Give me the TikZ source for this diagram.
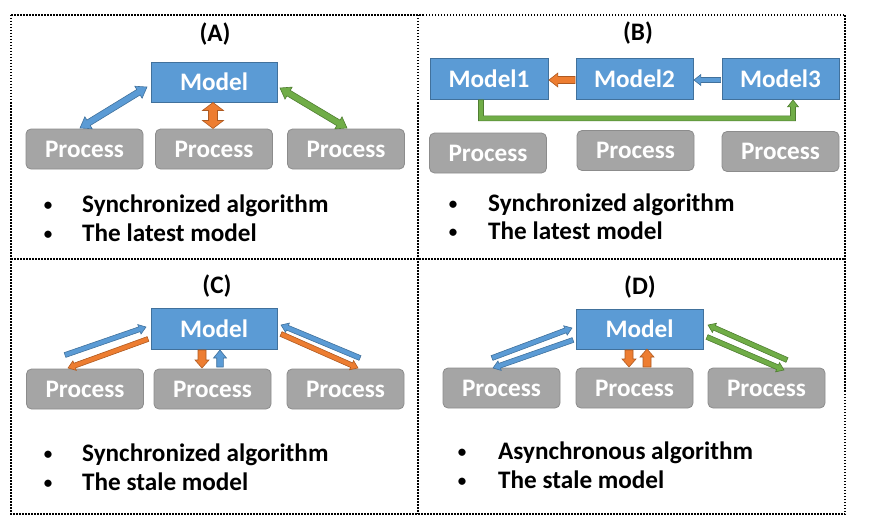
\documentclass[tikz,border=0pt]{standalone}
\usepackage{fontspec}
\setmainfont{Carlito}
\usetikzlibrary{calc}
\definecolor{mblue}{HTML}{5B9BD5}
\definecolor{mbluedk}{HTML}{41719C}
\definecolor{pgray}{HTML}{A5A5A5}
\definecolor{pgraydk}{HTML}{8C8C8C}
\definecolor{aorange}{HTML}{ED7D31}
\definecolor{aorangedk}{HTML}{AE5A21}
\definecolor{agreen}{HTML}{70AD47}
\definecolor{agreendk}{HTML}{507E32}
\newdimen\myax \newdimen\myay
\newcommand{\myprep}[2]{%
  \pgfextractx{\myax}{\pgfpointdiff{\pgfpointanchor{#1}{center}}{\pgfpointanchor{#2}{center}}}%
  \pgfextracty{\myay}{\pgfpointdiff{\pgfpointanchor{#1}{center}}{\pgfpointanchor{#2}{center}}}%
  \pgfmathsetmacro\myang{atan2(\myay,\myax)}%
  \pgfmathsetmacro\mylen{veclen(\myax,\myay)}}
% single block arrow: style, from, to, shaft half width, head half width, head length
\newcommand{\sarrow}[6]{%
  \myprep{#2}{#3}%
  \begin{scope}[shift={(#2)},rotate=\myang]
  \draw[#1] (0pt,-#4pt) -- ({\mylen pt-#6pt},-#4pt) -- ({\mylen pt-#6pt},-#5pt) -- (\mylen pt,0pt)
     -- ({\mylen pt-#6pt},#5pt) -- ({\mylen pt-#6pt},#4pt) -- (0pt,#4pt) -- cycle;
  \end{scope}}
% double block arrow
\newcommand{\darrow}[6]{%
  \myprep{#2}{#3}%
  \begin{scope}[shift={(#2)},rotate=\myang]
  \draw[#1] (0pt,0pt) -- (#6pt,#5pt) -- (#6pt,#4pt) -- ({\mylen pt-#6pt},#4pt) -- ({\mylen pt-#6pt},#5pt)
     -- (\mylen pt,0pt) -- ({\mylen pt-#6pt},-#5pt) -- ({\mylen pt-#6pt},-#4pt) -- (#6pt,-#4pt)
     -- (#6pt,-#5pt) -- cycle;
  \end{scope}}
\tikzset{
  txt/.style={font=\fontsize{25.2}{30}\selectfont\bfseries},
  modelbox/.style={txt, draw=mbluedk, fill=mblue, line width=0.8pt, text=white, inner sep=0pt,
    minimum width=126, minimum height=40},
  procbox/.style={txt, draw=pgraydk, fill=pgray, line width=0.8pt, text=white, inner sep=0pt,
    rounded corners=5pt, minimum width=117, minimum height=40},
  title/.style={txt, anchor=base, inner sep=0pt},
  bul/.style={font=\fontsize{17}{20}\selectfont\bfseries, anchor=base, inner sep=0pt},
  btext/.style={txt, anchor=base west, inner sep=0pt},
  frame/.style={line width=1.7pt, dash pattern=on 1.5pt off 1.5pt},
  ablue/.style={draw=mbluedk, fill=mblue, line width=0.6pt, line join=miter},
  aorng/.style={draw=aorangedk, fill=aorange, line width=0.6pt, line join=miter},
  agrn/.style={draw=agreendk, fill=agreen, line width=0.6pt, line join=miter},
}
\begin{document}
\begin{tikzpicture}[x=1pt,y=-1pt]
\useasboundingbox (0,0) rectangle (869,532);
% frame
\draw[frame] (11,15) rectangle (845,514);
\draw[frame] (418,15) -- (418,514);
\draw[frame] (11,259) -- (845,259);

% ---------- Panel A ----------
\node[title] (ta) at (215,42) {(A)};
\node[modelbox] (am) at (214,82) {Model};
\node[procbox] (pa1) at (84.5,149) {Process};
\node[procbox] (pa2) at (214,149) {Process};
\node[procbox] (pa3) at (346,149) {Process};
\coordinate (a1s) at (80,128); \coordinate (a1e) at (147,87);
\coordinate (a2s) at (213,102.5); \coordinate (a2e) at (213,128.5);
\coordinate (a3s) at (280,88); \coordinate (a3e) at (347,128);
\darrow{ablue}{a1s}{a1e}{3.2}{7}{10}
\darrow{aorng}{a2s}{a2e}{4.5}{10.5}{8}
\darrow{agrn}{a3s}{a3e}{3.2}{7}{10}
\node[bul] (ba1) at (48,210) {•};
\node[btext] (ta1) at (82,212) {Synchronized algorithm};
\node[bul] (ba2) at (48,239) {•};
\node[btext] (ta2) at (82,241) {The latest model};

% ---------- Panel B ----------
\node[title] (tb) at (638,41) {(B)};
\node[modelbox, minimum width=118, minimum height=41] (m1) at (489,78.5) {Model1};
\node[modelbox, minimum width=117, minimum height=41] (m2) at (634.5,78.5) {Model2};
\node[modelbox, minimum width=117, minimum height=41] (m3) at (780.5,78.5) {Model3};
\node[procbox] (pb1) at (488,153) {Process};
\node[procbox] (pb2) at (635.5,150.5) {Process};
\node[procbox] (pb3) at (780.5,151.5) {Process};
\coordinate (b1s) at ($(m2.west)+(-0.5,1.5)$); \coordinate (b1e) at ($(m1.east)+(0.5,1.5)$);
\coordinate (b2s) at ($(m3.west)+(-1,1.5)$); \coordinate (b2e) at ($(m2.east)+(0.5,1.5)$);
\sarrow{aorng}{b1s}{b1e}{3.5}{7}{9}
\sarrow{ablue}{b2s}{b2e}{2.5}{5.5}{7}
\coordinate (g1) at ($(m1.south)+(-8,0.5)$);
\coordinate (g2) at ($(m3.south)+(12.5,0.5)$);
\draw[agrn] ($(g1)+(-2.5,0)$) |- ($(g2)+(2.5,21)$) -- ($(g2)+(2.5,7)$) -- ($(g2)+(5.5,7)$)
  -- (g2) -- ($(g2)+(-5.5,7)$) -- ($(g2)+(-2.5,7)$) |- ($(g1)+(2.5,16)$) -- ($(g1)+(2.5,0)$) -- cycle;
\node[bul] (bb1) at (453,209) {•};
\node[btext] (tb1) at (488,211) {Synchronized algorithm};
\node[bul] (bb2) at (453,237) {•};
\node[btext] (tb2) at (488,239) {The latest model};

% ---------- Panel C ----------
\node[title] (tc) at (217,293) {(C)};
\node[modelbox, minimum height=41] (mc) at (214,328.5) {Model};
\node[procbox] (pc1) at (85,389) {Process};
\node[procbox] (pc2) at (212.5,389) {Process};
\node[procbox] (pc3) at (345.5,389) {Process};
\coordinate (c1s) at (65,355); \coordinate (c1e) at (146,327);
\coordinate (c2s) at (148,339); \coordinate (c2e) at (68,368);
\coordinate (c3s) at (202,350); \coordinate (c3e) at (202,368);
\coordinate (c4s) at (220,367); \coordinate (c4e) at (220,350);
\coordinate (c5s) at (360,358); \coordinate (c5e) at (281,325);
\coordinate (c6s) at (281,334); \coordinate (c6e) at (358,368);
\sarrow{ablue}{c1s}{c1e}{2.5}{5}{7}
\sarrow{aorng}{c2s}{c2e}{2.5}{5}{7}
\sarrow{aorng}{c3s}{c3e}{4}{7}{8}
\sarrow{ablue}{c4s}{c4e}{3.3}{6.5}{8}
\sarrow{ablue}{c5s}{c5e}{2.5}{5}{7}
\sarrow{aorng}{c6s}{c6e}{2.5}{5}{7}
\node[bul] (bc1) at (48,459) {•};
\node[btext] (tc1) at (82,461) {Synchronized algorithm};
\node[bul] (bc2) at (48,488) {•};
\node[btext] (tc2) at (82,490) {The stale model};

% ---------- Panel D ----------
\node[title] (td) at (640,294) {(D)};
\node[modelbox, minimum width=127] (md) at (639.5,329) {Model};
\node[procbox] (pd1) at (501.5,388) {Process};
\node[procbox] (pd2) at (634.5,388) {Process};
\node[procbox] (pd3) at (766.5,388) {Process};
\coordinate (d1s) at (492,358); \coordinate (d1e) at (572,328);
\coordinate (d2s) at (573,340); \coordinate (d2e) at (493,368);
\coordinate (d3s) at (629,350); \coordinate (d3e) at (629,367);
\coordinate (d4s) at (647,367); \coordinate (d4e) at (647,349);
\coordinate (d5s) at (787,360); \coordinate (d5e) at (708,325);
\coordinate (d6s) at (707,337); \coordinate (d6e) at (784,370);
\sarrow{ablue}{d1s}{d1e}{2.5}{5}{7}
\sarrow{ablue}{d2s}{d2e}{2.5}{5}{7}
\sarrow{aorng}{d3s}{d3e}{4}{7}{8}
\sarrow{aorng}{d4s}{d4e}{4}{7}{8}
\sarrow{agrn}{d5s}{d5e}{2.5}{5}{7}
\sarrow{agrn}{d6s}{d6e}{2.5}{5}{7}
\node[bul] (bd1) at (462,457) {•};
\node[btext] (td1) at (498,459) {Asynchronous algorithm};
\node[bul] (bd2) at (462,486) {•};
\node[btext] (td2) at (498,488) {The stale model};
\end{tikzpicture}
\end{document}
